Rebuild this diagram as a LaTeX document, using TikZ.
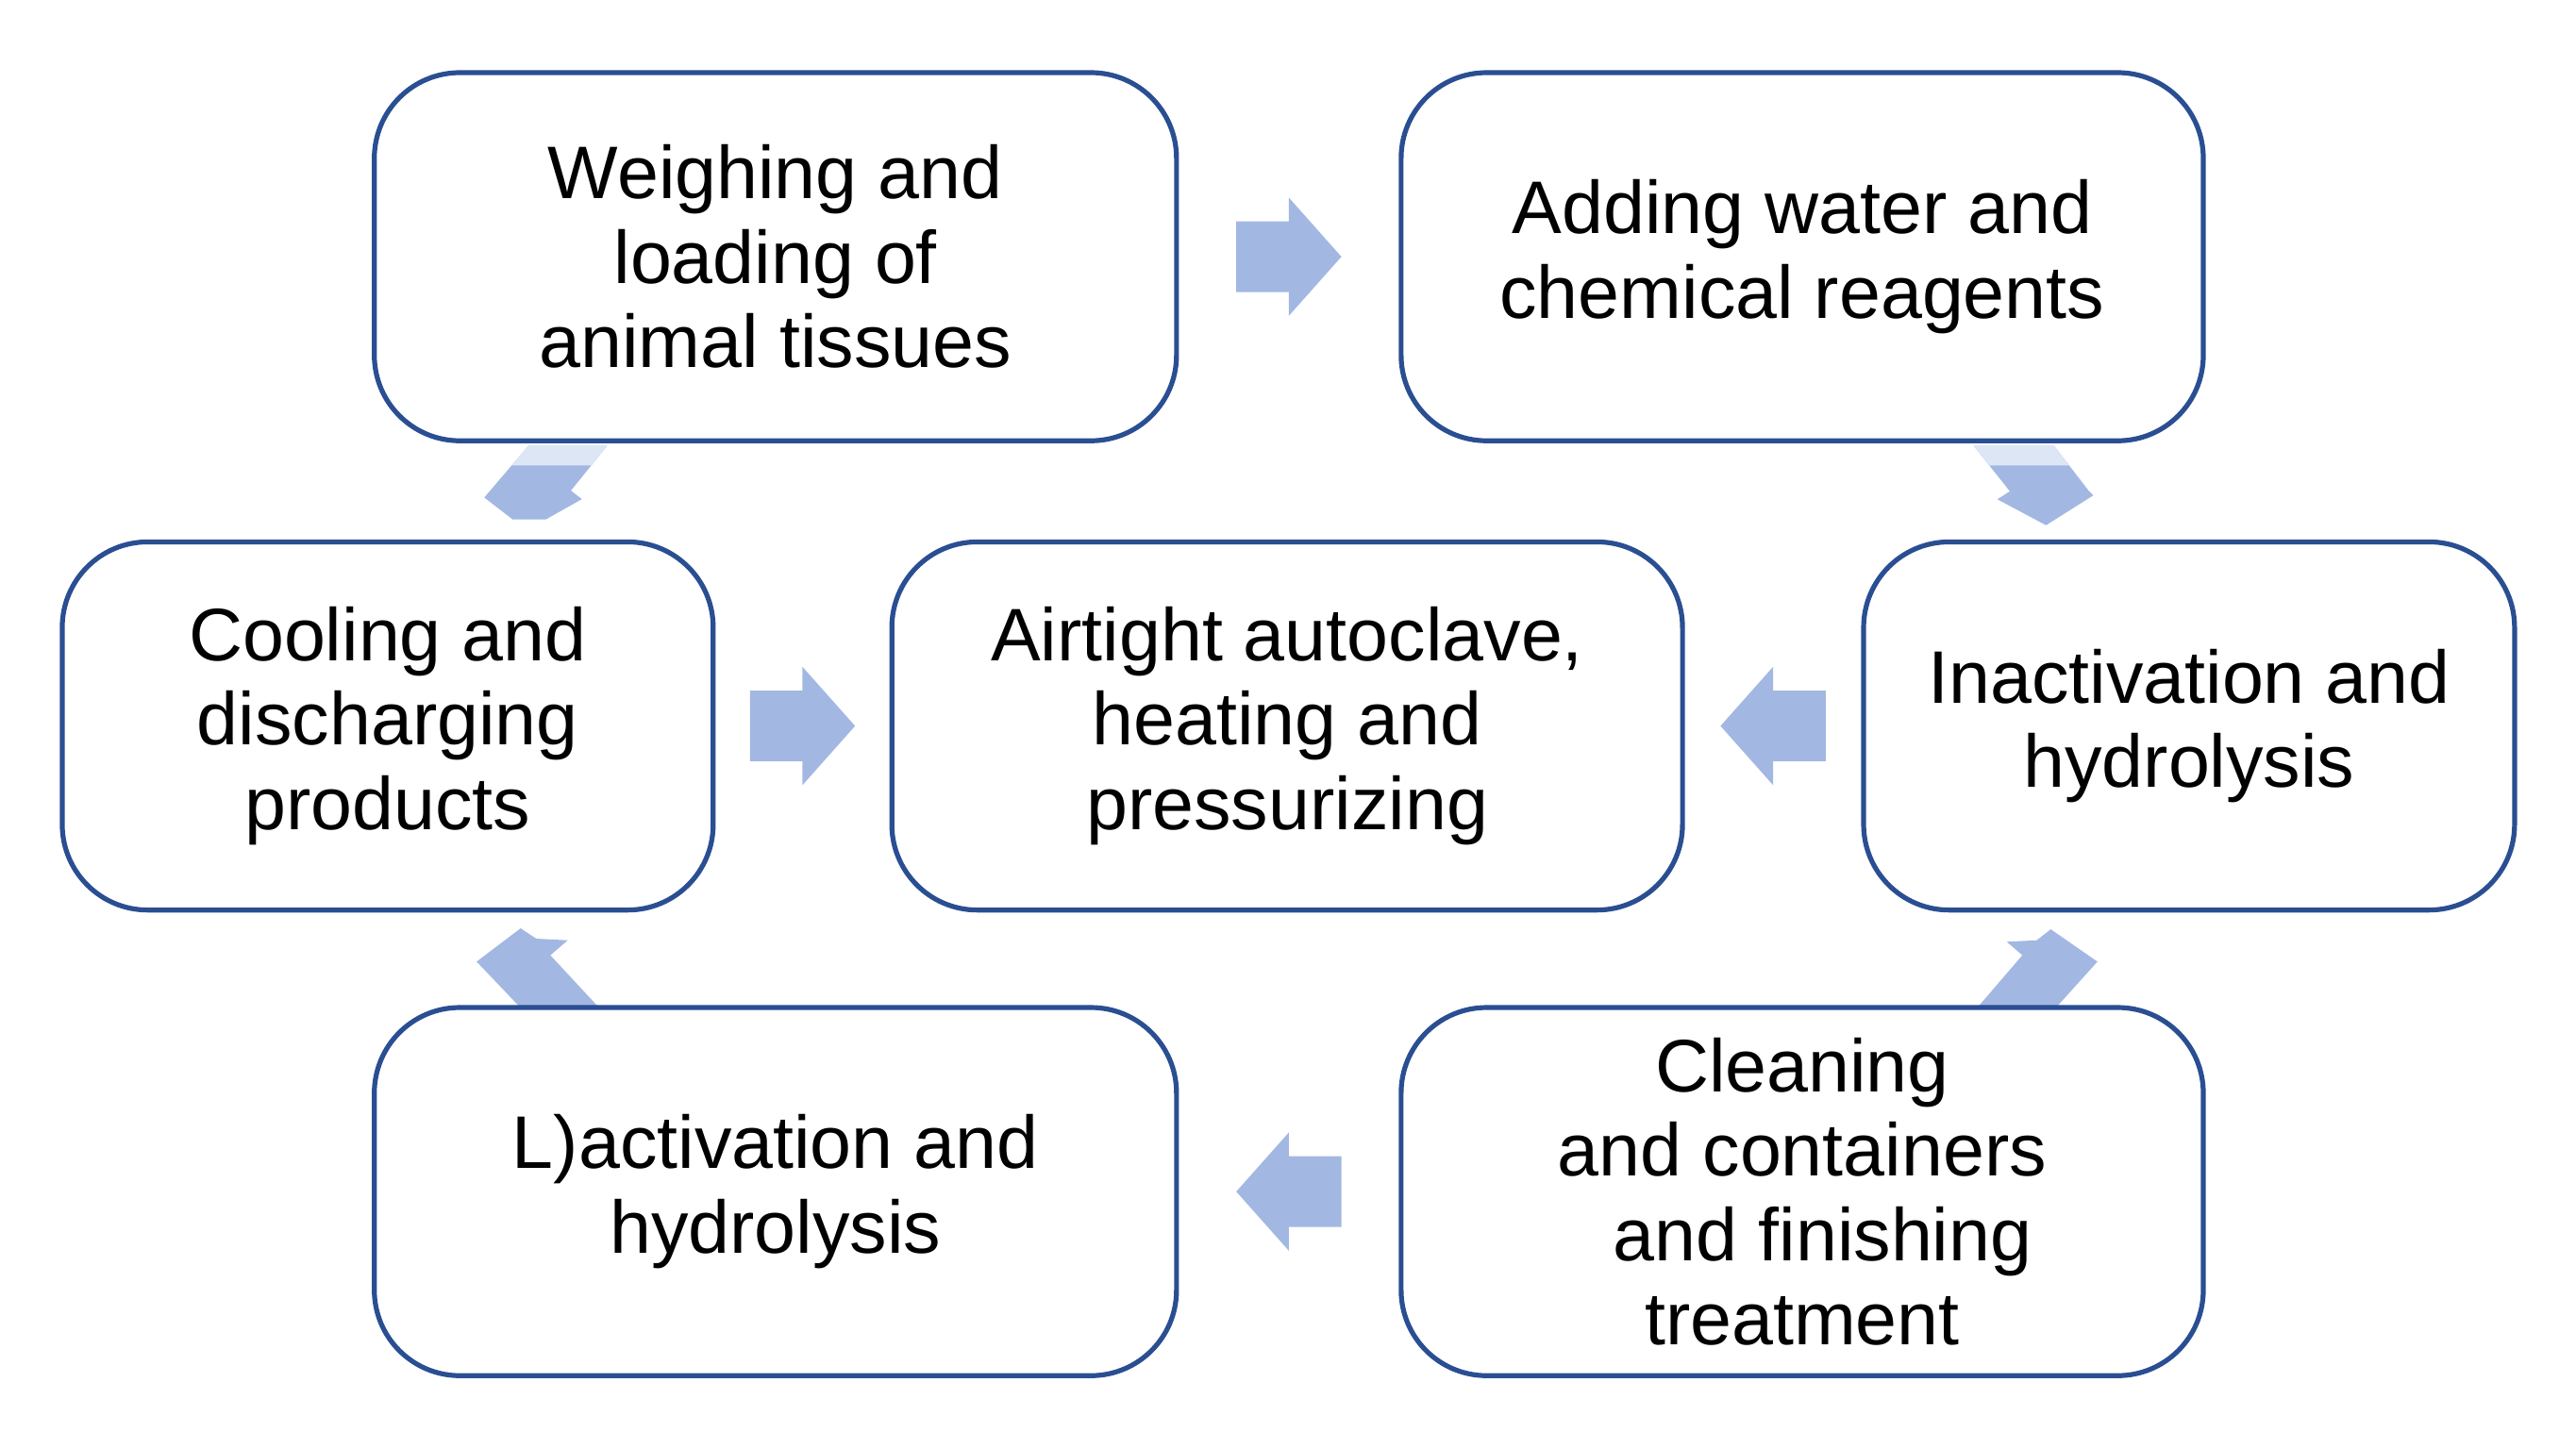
\documentclass[tikz,border=0pt]{standalone}
\usepackage{fontspec}
\setmainfont{Liberation Sans}
\usepackage{xcolor}
\usetikzlibrary{calc}
\tikzset{stage/.style={draw=boxblue,line width=.85pt,rounded corners=.52cm,minimum width=4.88cm,minimum height=2.24cm,align=center,font=\fontsize{12.9}{14.6}\selectfont},
narrow/.style={stage,minimum width=3.96cm},
harrow/.pic={\fill[arrowfill] (-32,-21.5)--(0,-21.5)--(0,-36)--(32,0)--(0,36)--(0,21.5)--(-32,21.5)--cycle;}}
\definecolor{boxblue}{HTML}{2A4E92}
\definecolor{arrowfill}{HTML}{A2B8E2}
\definecolor{arrowlight}{HTML}{DCE6F5}

\begin{document}
\begin{tikzpicture}[x=.01cm,y=-.01cm]
\useasboundingbox (0,0) rectangle (1568,882);
% slanted arrows between the rows
\fill[arrowfill] (1201.4,271.5)--(1250.3,271.5)--(1271.3,298.7)--(1274.2,301.6)--(1245.4,319.8)--(1215.8,304)--(1223.4,299.1)--cycle;
\fill[arrowlight] (1201.4,271.5)--(1250.3,271.5)--(1259.5,283.4)--(1210.9,283.4)--cycle;
\fill[arrowfill] (321.6,271.5)--(369.5,271.5)--(347.5,298.7)--(354.2,303.9)--(332.2,316.3)--(312.1,316.3)--(294.8,302.9)--cycle;
\fill[arrowlight] (321.6,271.5)--(369.5,271.5)--(359.9,283.4)--(311.4,283.4)--cycle;
\fill[arrowfill] (316.9,613.6)--(290.1,585.5)--(316.9,565.2)--(326.4,571.5)--(345.6,572.5)--(335,581.6)--(364.7,613.6)--cycle;
\fill[arrowfill] (1204.3,612.7)--(1231,581.6)--(1221.5,573.4)--(1239.7,572.5)--(1248.3,565.8)--(1276.7,585.5)--(1252.2,612.7)--cycle;
% stages
\node[stage] (weigh) at (472,156.3) {Weighing and\\loading of\\animal tissues};
\node[stage] (reagent) at (1097,156.3) {Adding water and\\chemical reagents};
\node[narrow] (cool) at (236,442) {Cooling and\\discharging\\products};
\node[stage,minimum width=4.81cm] (autoclave) at (783.5,442) {Airtight autoclave,\\heating and\\pressurizing};
\node[narrow] (inact) at (1332.5,442) {Inactivation and\\hydrolysis};
\node[stage] (lact) at (472,725.5) {L)activation and\\hydrolysis};
\node[stage] (clean) at (1097,725.5) {Cleaning\\and containers\\\hspace*{.25cm}and finishing\\treatment};
% straight arrows
\pic at ($(weigh.east)!.5!(reagent.west)$) {harrow};
\pic at ($(cool.east)!.5!(autoclave.west)$) {harrow};
\pic[xscale=-1] at ($(inact.west)!.5!(autoclave.east)$) {harrow};
\pic[xscale=-1] at ($(clean.west)!.5!(lact.east)$) {harrow};
\end{tikzpicture}
\end{document}
